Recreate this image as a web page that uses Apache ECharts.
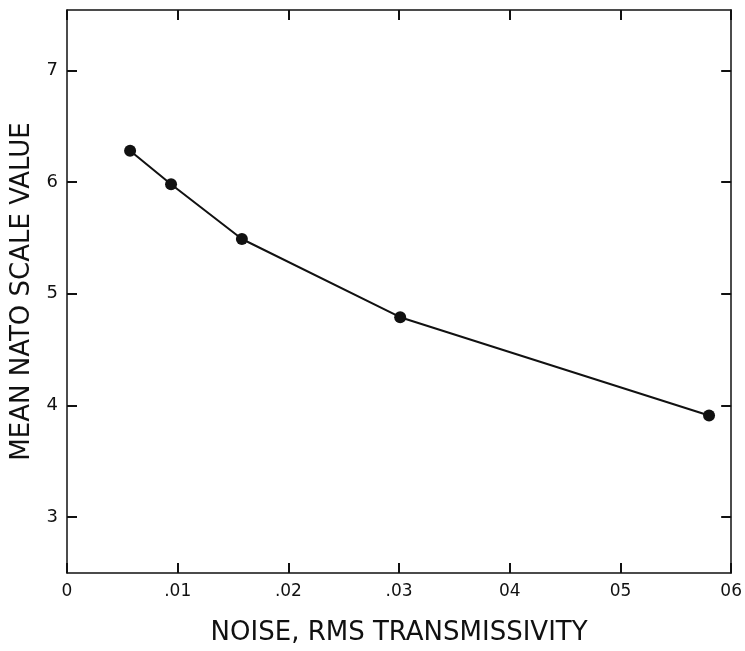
<!DOCTYPE html>
<html><head><meta charset="utf-8">
<script src="https://cdn.jsdelivr.net/npm/echarts@6/dist/echarts.min.js"></script>
<style>html,body{margin:0;padding:0;background:#fff}#c{width:745px;height:651px}</style>
</head><body><div id="c"></div>
<script>
const noise = [0.0057, 0.0094, 0.0158, 0.0301, 0.0580];
const natoValue = [6.28, 5.98, 5.49, 4.79, 3.91];
const xTickValues = [0, 0.01, 0.02, 0.03, 0.04, 0.05, 0.06];
const xTickLabels = ['0', '.01', '.02', '.03', '04', '05', '06'];
const yTickValues = [3, 4, 5, 6, 7];

const chart = echarts.init(document.getElementById('c'));
const font = 'DejaVu Sans, Liberation Sans, sans-serif';
const axisLine = {show: true, onZero: false, lineStyle: {color: '#111', width: 1.5}};
const axisTick = {show: true, inside: true, length: 10, lineStyle: {color: '#111', width: 2}};
const yTick = Object.assign({customValues: yTickValues}, axisTick);
function xLabel(v) {
  for (let i = 0; i < xTickValues.length; i++) if (Math.abs(v - xTickValues[i]) < 1e-6) return xTickLabels[i];
  return '';
}
chart.setOption({
  backgroundColor: '#fff',
  animation: false,
  grid: {left: 67, right: 11, top: 10, bottom: 73},
  xAxis: [{
    type: 'value', min: 0, max: 0.06, interval: 0.01, position: 'bottom',
    axisLine, axisTick, splitLine: {show: false},
    axisLabel: {formatter: xLabel, color: '#111', fontSize: 17, fontFamily: font, margin: 10},
    name: 'NOISE, RMS TRANSMISSIVITY', nameLocation: 'middle', nameGap: 47,
    nameTextStyle: {color: '#111', fontSize: 26, fontFamily: font}
  }, {
    type: 'value', min: 0, max: 0.06, interval: 0.01, position: 'top',
    axisLine, axisTick, splitLine: {show: false}, axisLabel: {show: false}
  }],
  yAxis: [{
    type: 'value', min: 2.5, max: 7.54, interval: 0.5, position: 'left',
    axisLine, axisTick: yTick, splitLine: {show: false},
    axisLabel: {customValues: yTickValues, formatter: v => String(v), color: '#111', fontSize: 18, fontFamily: font, margin: 9},
    name: 'MEAN NATO SCALE VALUE', nameLocation: 'middle', nameGap: 29,
    nameTextStyle: {color: '#111', fontSize: 26, fontFamily: font}
  }, {
    type: 'value', min: 2.5, max: 7.54, interval: 0.5, position: 'right',
    axisLine, axisTick: yTick, splitLine: {show: false}, axisLabel: {show: false}
  }],
  series: [{
    type: 'line',
    data: noise.map((x, i) => [x, natoValue[i]]),
    symbol: 'circle', symbolSize: 12,
    lineStyle: {color: '#111', width: 2},
    itemStyle: {color: '#111'}
  }]
});
</script></body></html>
